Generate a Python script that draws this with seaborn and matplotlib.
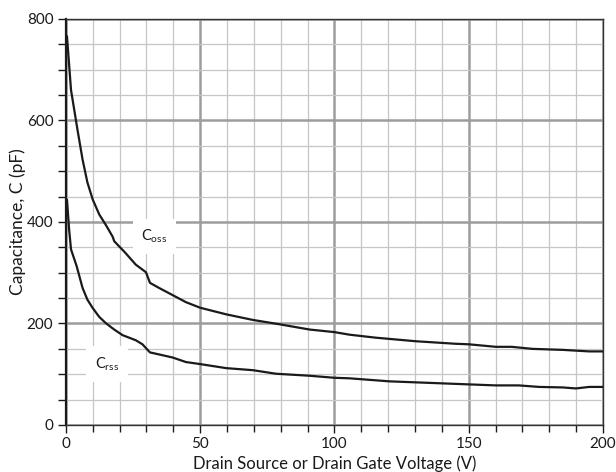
import matplotlib
matplotlib.use("Agg")
import matplotlib.pyplot as plt
import seaborn as sns
import pandas as pd
from matplotlib.ticker import MultipleLocator

# Data
coss_v = [0.4, 1.9, 4.3, 6.2, 8.0, 10.0, 12.4, 15.0, 17.4, 18.0, 22.0, 26.0, 29.8, 31.3, 34.7, 39.7, 44.7, 50.0,
          59.7, 69.6, 80.0, 90.8, 100.0, 105.5, 115.4, 130.3, 145.2, 150.0, 160.1, 166.0, 173.7, 185.0, 194.8, 200.0]
coss_c = [766, 660, 582, 523, 478, 444, 415, 393, 371, 362, 340, 316, 301, 280, 270, 256, 242, 231,
          218, 207, 198, 188, 183, 178, 172, 165, 160, 159, 154, 154, 150, 148, 145, 145]

crss_v = [0.4, 1.2, 1.9, 4.0, 6.2, 8.0, 9.9, 12.4, 15.0, 18.0, 21.1, 26.0, 28.5, 31.3, 34.7, 39.7, 44.7, 50.0,
          59.7, 69.6, 78.2, 90.8, 100.0, 105.5, 120.4, 130.3, 140.2, 150.0, 160.0, 168.6, 176.2, 185.0, 189.9, 194.8, 200.0]
crss_c = [444, 385, 346, 313, 270, 247, 231, 213, 200, 188, 177, 167, 159, 143, 139, 133, 124, 120,
          112, 108, 101, 97, 93, 92, 86, 84, 82, 80, 78, 78, 75, 74, 72, 75, 75]

x_ticks = [0, 50, 100, 150, 200]
y_ticks = [0, 200, 400, 600, 800]

sns.set_theme(style="white")
plt.rcParams['font.family'] = ['Lato', 'DejaVu Sans']
plt.rcParams['mathtext.fontset'] = 'custom'
plt.rcParams['mathtext.rm'] = 'Lato'

fig = plt.figure(figsize=(6.16, 4.72), dpi=100)
ax = fig.add_axes([0.107, 0.0996, 0.872, 0.8602])

df_coss = pd.DataFrame({"V": coss_v, "C": coss_c})
df_crss = pd.DataFrame({"V": crss_v, "C": crss_c})
sns.lineplot(data=df_coss, x="V", y="C", ax=ax, color="#1a1a1a", linewidth=1.6, zorder=5)
sns.lineplot(data=df_crss, x="V", y="C", ax=ax, color="#1a1a1a", linewidth=1.6, zorder=5)

ax.set_xlim(0, 200)
ax.set_ylim(0, 800)
ax.set_xticks(x_ticks)
ax.set_yticks(y_ticks)
ax.xaxis.set_minor_locator(MultipleLocator(10))
ax.yaxis.set_minor_locator(MultipleLocator(50))

ax.grid(which="major", color="#9d9d9f", linewidth=1.8, zorder=1)
ax.grid(which="minor", color="#c6c6c6", linewidth=0.9, zorder=0)
ax.set_axisbelow(True)

ax.tick_params(axis="both", which="major", direction="out", length=6, width=1.0,
               color="#1a1a1a", labelsize=11, labelcolor="#1a1a1a", pad=3,
               bottom=True, left=True)
ax.tick_params(axis="x", which="minor", direction="out", length=5, width=1.0, color="#1a1a1a", bottom=True)
ax.tick_params(axis="y", which="minor", direction="out", length=6, width=1.0, color="#1a1a1a", left=True)

for s in ax.spines.values():
    s.set_color("#333333")
    s.set_linewidth(1.0)
ax.spines["left"].set_color("#1a1a1a")
ax.spines["left"].set_linewidth(1.6)

ax.set_xlabel("Drain Source or Drain Gate Voltage (V)", fontsize=12, color="#1a1a1a", labelpad=3)
ax.set_ylabel("Capacitance, C (pF)", fontsize=12.5, color="#1a1a1a")
ax.yaxis.set_label_coords(-0.074, 0.5)

bbox = dict(boxstyle="square,pad=0.6", facecolor="white", edgecolor="none")
ax.text(33, 372, r"C$_{\mathrm{oss}}$", fontsize=10.5, color="#1a1a1a", ha="center", va="center",
        bbox=bbox, zorder=3)
ax.text(15.3, 120, r"C$_{\mathrm{rss}}$", fontsize=10.5, color="#1a1a1a", ha="center", va="center",
        bbox=bbox, zorder=3)

fig.savefig("out.png", dpi=100)
